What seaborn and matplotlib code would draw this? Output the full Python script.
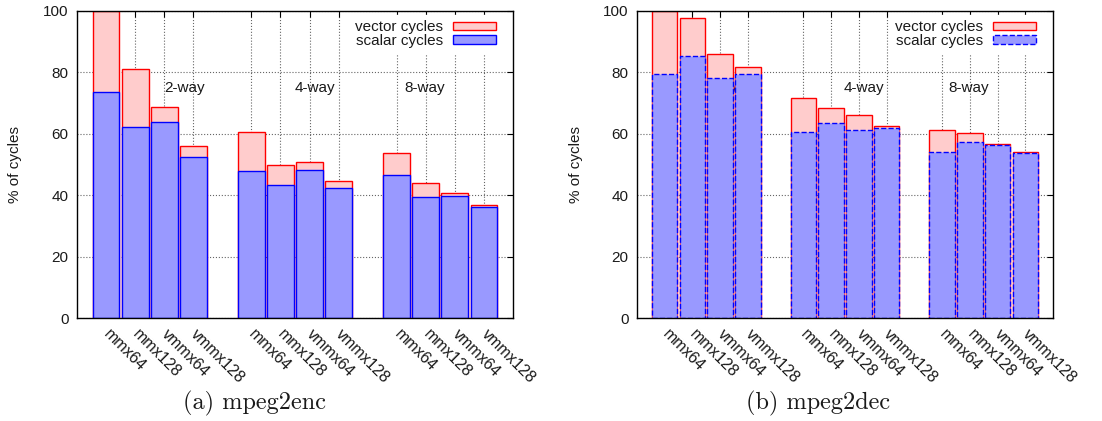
import numpy as np
import pandas as pd
import matplotlib
matplotlib.use("Agg")
import matplotlib.pyplot as plt
from matplotlib.patches import Patch
import seaborn as sns

sns.set_theme(style="white")
plt.rcParams['font.family'] = ['Liberation Sans', 'DejaVu Sans']

configs = ['mmx64', 'mmx128', 'vmmx64', 'vmmx128']
ways = ['2-way', '4-way', '8-way']

enc_total = [100, 81.0, 68.8, 56.1, 60.7, 49.8, 50.9, 44.7, 53.7, 44.1, 40.6, 36.8]
enc_scalar = [73.5, 62.1, 64.0, 52.4, 47.9, 43.3, 48.3, 42.5, 46.5, 39.3, 39.9, 36.2]
dec_total = [100, 97.6, 86.0, 81.9, 71.5, 68.4, 66.1, 62.4, 61.3, 60.1, 56.8, 54.2]
dec_scalar = [79.4, 85.5, 78.1, 79.5, 60.7, 63.4, 61.2, 61.9, 54.0, 57.3, 56.3, 53.8]

PINK, RED = '#ffcccc', '#ff0000'
BLUE, DBLUE = '#9999ff', '#0000ff'
FS = 11
TEXTC = '#1a1a1a'

fig = plt.figure(figsize=(11.02, 4.21), dpi=100)
axL = fig.add_axes([77/1102, 1-318/421, 436/1102, 307/421])
axR = fig.add_axes([637/1102, 1-318/421, 416/1102, 307/421])

def make_df(total, scalar):
    rows = []
    for g, w in enumerate(ways):
        for i, c in enumerate(configs):
            k = g*4 + i
            rows.append(dict(pos=g*5 + i, way=w, config=c,
                             total=total[k], scalar=scalar[k]))
    return pd.DataFrame(rows)

def draw(ax, total, scalar, dashed, caption, cap_x, ylx, width_px):
    df = make_df(total, scalar)
    ax.set_axisbelow(True)
    sns.barplot(data=df, x='pos', y='total', native_scale=True, width=0.92,
                color=PINK, edgecolor=RED, linewidth=1.0, saturation=1,
                errorbar=None, ax=ax, zorder=2)
    sns.barplot(data=df, x='pos', y='scalar', native_scale=True, width=0.92,
                color=BLUE, edgecolor=DBLUE, linewidth=1.0, saturation=1,
                errorbar=None, ax=ax, zorder=3,
                linestyle='--' if dashed else '-')
    ax.set_xlim(-1, 14)
    ax.set_ylim(0, 100)
    ax.set_yticks([0, 20, 40, 60, 80, 100])
    ax.set_xticks(df['pos'])
    ax.set_xticklabels(df['config'], rotation=-45, ha='left', va='center',
                       rotation_mode='anchor', fontsize=11.5, color=TEXTC)
    ax.tick_params(axis='y', labelsize=FS, labelcolor=TEXTC)
    ax.tick_params(direction='in', top=True, right=True, length=4,
                   width=0.8, color='black')
    ax.tick_params(axis='x', pad=10)
    ax.tick_params(axis='y', pad=6)
    ax.grid(True, linestyle=':', color='#666666', linewidth=0.8)
    for s in ax.spines.values():
        s.set_visible(True)
        s.set_color('black')
        s.set_linewidth(1.0)
        s.set_zorder(20)
    ax.set_xlabel('')
    ax.set_ylabel('% of cycles', fontsize=FS, color=TEXTC)
    ax.yaxis.set_label_coords(ylx, 0.5)
    for x, w in zip([2.7, 7.2, 10.95], ways):
        ax.text(x, 75, w, ha='center', va='center', fontsize=FS,
                color=TEXTC, zorder=1)
    handles = [Patch(facecolor=PINK, edgecolor=RED, linewidth=1.0),
               Patch(facecolor=BLUE, edgecolor=DBLUE, linewidth=1.0,
                     linestyle='--' if dashed else '-')]
    leg = ax.legend(handles, ['vector cycles', 'scalar cycles'],
                    loc='upper right',
                    bbox_to_anchor=(1 - 12/width_px, 1 - 4/307),
                    markerfirst=False, fontsize=FS,
                    frameon=True, framealpha=1, fancybox=False,
                    edgecolor='white', handlelength=2.8, handleheight=0.5,
                    labelspacing=-0.03, borderaxespad=0.0, handletextpad=0.65,
                    borderpad=0.35)
    for t in leg.get_texts():
        t.set_color(TEXTC)
    leg.set_zorder(10)
    fig.text(cap_x/1102, 1-403/421, caption, ha='center', va='center',
             fontsize=17.5, family='cmr10', color=TEXTC)

draw(axL, enc_total, enc_scalar, False, '(a) mpeg2enc', 255, -0.126, 436)
draw(axR, dec_total, dec_scalar, True, '(b) mpeg2dec', 818, -0.13, 416)

fig.savefig('out.png', dpi=100)
